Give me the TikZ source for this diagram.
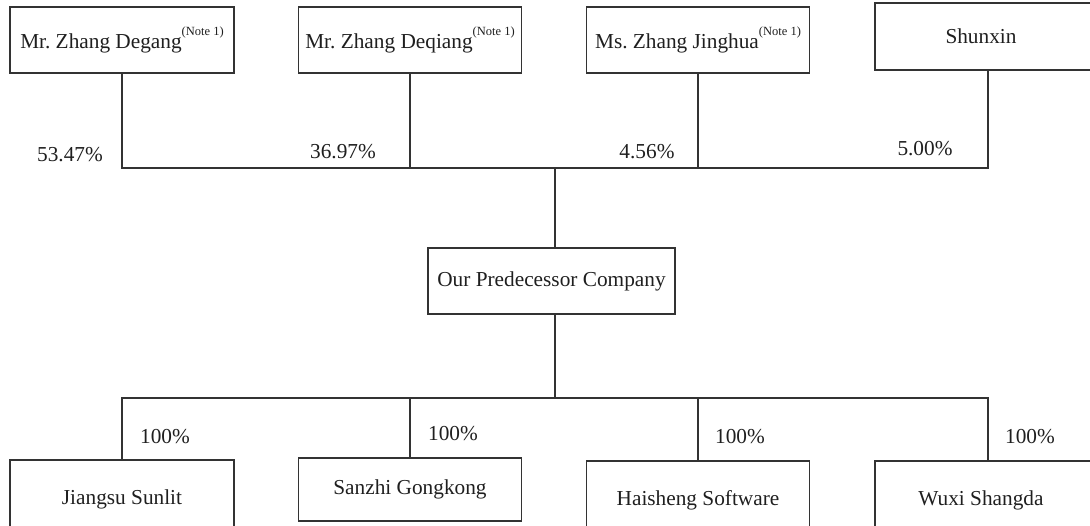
\documentclass[tikz,border=0pt]{standalone}
\usepackage{fontspec}
\setmainfont{Liberation Serif}
\frenchspacing
\begin{document}
\begin{tikzpicture}[x=1pt,y=-1pt,
  every node/.style={font=\fontsize{21.3}{25}\selectfont, text=black!88},
  box/.style={draw=black!80, line width=1.3pt, minimum height=66pt, inner sep=0pt},
  pct/.style={inner sep=0pt},
  conn/.style={draw=black!80, line width=1.3pt}]
\useasboundingbox (0,0) rectangle (1090,525);
\clip (0,0) rectangle (1090,525);
% top row
\node[box, minimum width=224pt] (b1) at (122,40) {Mr. Zhang Degang\raisebox{0.6em}{\fontsize{12.5}{14}\selectfont(Note 1)}};
\node[box, minimum width=223pt] (b2) at (410,40) {Mr. Zhang Deqiang\raisebox{0.6em}{\fontsize{12.5}{14}\selectfont(Note 1)}};
\node[box, minimum width=223pt] (b3) at (698,40) {Ms. Zhang Jinghua\raisebox{0.6em}{\fontsize{12.5}{14}\selectfont(Note 1)}};
\node[box, minimum width=226pt, minimum height=67pt] (b4) at (988,36.5) {\hspace*{-14pt}Shunxin};
% middle
\node[box, minimum width=247pt] (p) at (551.5,281) {Our Predecessor Company};
% bottom row
\node[box, minimum width=224pt, minimum height=80pt] (c1) at (122,500) {\raisebox{6pt}{Jiangsu Sunlit}};
\node[box, minimum width=223pt, minimum height=63pt] (c2) at (410,489.5) {Sanzhi Gongkong};
\node[box, minimum width=223pt, minimum height=80pt] (c3) at (698,501) {\raisebox{6pt}{Haisheng Software}};
\node[box, minimum width=226pt, minimum height=80pt] (c4) at (988,501) {\raisebox{6pt}{\hspace*{-14pt}Wuxi Shangda}};
% junctions
\coordinate (jt) at (555,168);
\coordinate (jb) at (555,398);
% connectors top
\draw[conn] (b1.south) -- (b1.south |- jt) -- (b4.south |- jt) -- (b4.south);
\draw[conn] (b2.south) -- (b2.south |- jt);
\draw[conn] (b3.south) -- (b3.south |- jt);
\draw[conn] (jt) -- (jt |- p.north);
% connectors bottom
\draw[conn] (jb |- p.south) -- (jb);
\draw[conn] (c1.north) -- (c1.north |- jb) -- (c4.north |- jb) -- (c4.north);
\draw[conn] (c2.north) -- (c2.north |- jb);
\draw[conn] (c3.north) -- (c3.north |- jb);
% labels
\node[pct] (l1) at (70,155) {53.47\%};
\node[pct] (l2) at (343,152) {36.97\%};
\node[pct] (l3) at (647,152) {4.56\%};
\node[pct] (l4) at (925,149) {5.00\%};
\node[pct] (m1) at (165,437) {100\%};
\node[pct] (m2) at (453,434) {100\%};
\node[pct] (m3) at (740,437) {100\%};
\node[pct] (m4) at (1030,437) {100\%};
\end{tikzpicture}
\end{document}
